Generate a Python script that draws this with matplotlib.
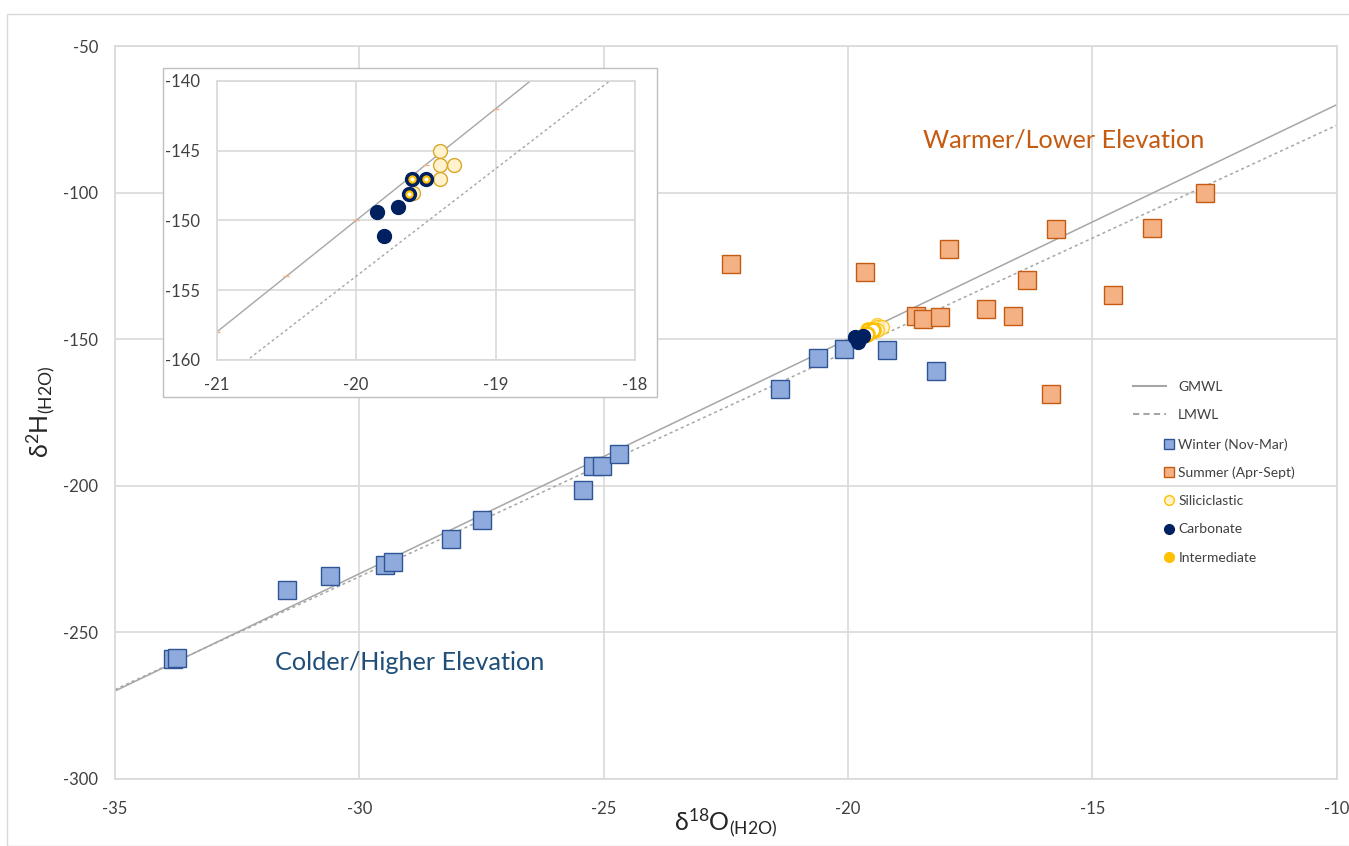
import matplotlib.pyplot as plt
from matplotlib.lines import Line2D
from matplotlib.patches import Rectangle

plt.rcParams['font.family'] = ['Lato', 'DejaVu Sans']
plt.rcParams['mathtext.fontset'] = 'custom'
plt.rcParams['mathtext.rm'] = 'Lato'
plt.rcParams['mathtext.it'] = 'Lato:italic'
plt.rcParams['axes.unicode_minus'] = False

# meteoric water lines (end points)
gmwl_x = [-35, -10]
gmwl_y = [-270, -70]
lmwl_x = [-35, -10]
lmwl_y = [-269.5, -77.0]
# small markers on the GMWL series (visible in the inset)
gmwl_mark_x = [-21, -20.5, -20, -19.5, -19]
gmwl_mark_y = [-158, -154, -150, -146, -142]

# precipitation samples
winter_x = [-33.81, -33.72, -31.48, -30.59, -29.48, -29.31, -28.13, -27.48, -25.43,
            -25.21, -25.03, -24.69, -21.40, -20.61, -20.08, -19.20, -18.21]
winter_y = [-259.1, -258.8, -235.6, -230.7, -226.9, -226.1, -218.0, -211.6, -201.4,
            -193.2, -193.2, -189.3, -167.0, -156.5, -153.2, -153.75, -160.8]
summer_x = [-22.39, -19.66, -17.94, -15.75, -13.78, -12.70, -18.61, -18.46, -18.12,
            -17.17, -16.63, -16.33, -14.58, -15.85]
summer_y = [-124.3, -127.2, -119.3, -112.5, -112.0, -100.3, -142.0, -143.2, -142.3,
            -139.8, -142.0, -129.7, -134.9, -168.75]

# groundwater samples
silic_x = [-19.4, -19.4, -19.3, -19.4, -19.59]
silic_y = [-145.0, -146.0, -146.0, -147.0, -148.0]
carb_x = [-19.85, -19.70, -19.80]
carb_y = [-149.4, -149.0, -151.1]
inter_x = [-19.60, -19.50, -19.62]
inter_y = [-147.0, -147.0, -148.1]

GRID = '#D9D9D9'
LINE = '#A6A6A6'
NAVY = '#002060'
GOLD = '#FFC000'
TXT = '#404040'

fig = plt.figure(figsize=(13.49, 8.46), dpi=100)
fig.patches.append(Rectangle((7 / 1349, 0), 1.0, 1 - 14 / 846, transform=fig.transFigure,
                             fill=False, edgecolor=GRID, lw=1, zorder=0))

ax = fig.add_axes([0.0852, 0.0792, 0.9058, 0.8664])
ax.set_xlim(-35, -10)
ax.set_ylim(-300, -50)
ax.set_xticks(range(-35, -9, 5))
ax.set_yticks(range(-300, -49, 50))
ax.grid(True, color=GRID, lw=1.2)
ax.set_axisbelow(True)
for s in ax.spines.values():
    s.set_color(GRID)
    s.set_linewidth(1.2)
ax.tick_params(length=0, labelsize=12, colors=TXT)
ax.tick_params(axis='x', pad=16)
ax.tick_params(axis='y', pad=12)

ax.plot(gmwl_x, gmwl_y, color=LINE, lw=1.1, zorder=2)
ax.plot(lmwl_x, lmwl_y, color=LINE, lw=1.1, ls=(0, (2, 2)), zorder=2)

ax.plot(winter_x, winter_y, 's', ms=13, mfc='#8FAADC', mec='#2F5597', mew=1, zorder=3)
ax.plot(summer_x, summer_y, 's', ms=13, mfc='#F4B183', mec='#C55A11', mew=1, zorder=3)
ax.plot(silic_x, silic_y, 'o', ms=10, mfc='#FFF2CC', mec=GOLD, mew=1, alpha=0.8, zorder=4)
ax.plot(inter_x, inter_y, 'o', ms=10, mfc='white', mec=GOLD, mew=2, zorder=4)
ax.plot(carb_x, carb_y, 'o', ms=10, mfc=NAVY, mec=NAVY, zorder=5)

ax.text(-15.58, -82.1, 'Warmer/Lower Elevation', color='#C55A11', fontsize=18.2,
        ha='center', va='center')
ax.text(-28.96, -260.4, 'Colder/Higher Elevation', color='#1F4E79', fontsize=18.2,
        ha='center', va='center')

fig.text(0.538, 0.028, r'$\mathrm{\delta^{18}O_{(H2O)}}$', fontsize=18,
         ha='center', va='center', color='#262626')
fig.text(0.03, 0.513, r'$\mathrm{\delta^{2}H_{(H2O)}}$', fontsize=18, rotation=90,
         ha='center', va='center', color='#262626')

# legend: lines and markers in two blocks (markers sit right next to the text)
line_handles = [
    Line2D([], [], color=LINE, lw=1.5),
    Line2D([], [], color=LINE, lw=1.5, ls=(0, (3, 2))),
]
line_labels = ['GMWL', 'LMWL']
mark_handles = [
    Line2D([], [], marker='s', ls='', ms=7, mfc='#8FAADC', mec='#2F5597'),
    Line2D([], [], marker='s', ls='', ms=7, mfc='#F4B183', mec='#C55A11'),
    Line2D([], [], marker='o', ls='', ms=7, mfc='#FFF2CC', mec=GOLD),
    Line2D([], [], marker='o', ls='', ms=7, mfc=NAVY, mec=NAVY),
    Line2D([], [], marker='o', ls='', ms=7, mfc=GOLD, mec=GOLD),
]
mark_labels = ['Winter (Nov-Mar)', 'Summer (Apr-Sept)', 'Siliciclastic',
               'Carbonate', 'Intermediate']
fig.legend(line_handles, line_labels, loc='upper left', bbox_to_anchor=(0.8399, 0.5496),
           frameon=False, fontsize=10, handlelength=2.4, handletextpad=0.85,
           labelspacing=1.16, borderpad=0, borderaxespad=0, labelcolor=TXT)
fig.legend(mark_handles, mark_labels, loc='upper left', bbox_to_anchor=(0.8621, 0.4823),
           frameon=False, fontsize=10, handlelength=0.8, handletextpad=0.3,
           labelspacing=1.16, borderpad=0, borderaxespad=0, labelcolor=TXT)

# inset
fig.patches.append(Rectangle((0.1208, 0.5307), 0.3662, 0.3889, transform=fig.transFigure,
                             facecolor='white', edgecolor='#BFBFBF', lw=1, zorder=1))
ins = fig.add_axes([0.1606, 0.5745, 0.3101, 0.3298], zorder=2)
ins.set_xlim(-21, -18)
ins.set_ylim(-160, -140)
ins.set_xticks([-21, -20, -19, -18])
ins.set_yticks(range(-160, -139, 5))
ins.grid(True, color=GRID, lw=1.2)
ins.set_axisbelow(True)
for s in ins.spines.values():
    s.set_color(GRID)
    s.set_linewidth(1.2)
ins.tick_params(length=0, labelsize=12, colors=TXT)
ins.tick_params(axis='x', pad=12)
ins.tick_params(axis='y', pad=12)

ins.plot(gmwl_x, gmwl_y, color=LINE, lw=1.0, zorder=2)
ins.plot(gmwl_mark_x, gmwl_mark_y, '_', color='#F4B183', ms=5, zorder=2)
ins.plot(lmwl_x, lmwl_y, color=LINE, lw=1.0, ls=(0, (2, 2)), zorder=2)
ins.plot(silic_x, silic_y, 'o', ms=10, mfc='#FFF2CC', mec='#D9A82B', mew=1, zorder=3)
ins.plot(carb_x, carb_y, 'o', ms=10, mfc=NAVY, mec=NAVY, zorder=4)
ins.plot(inter_x, inter_y, 'o', ms=10, mfc=NAVY, mec=NAVY, zorder=4)
ins.plot(inter_x, inter_y, 'o', ms=4.5, mfc='white', mec=GOLD, mew=1.5, zorder=5)

fig.savefig('out.png', dpi=100)
